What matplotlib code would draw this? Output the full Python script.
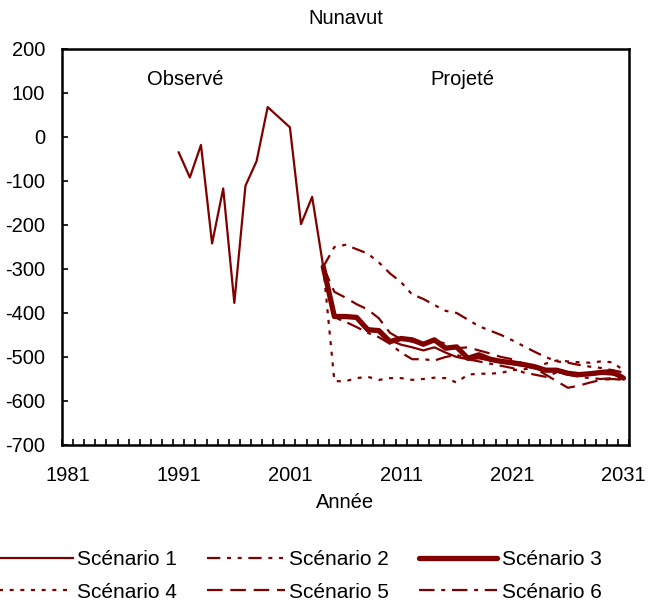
import numpy as np
import matplotlib
matplotlib.use('Agg')
import matplotlib.pyplot as plt
from matplotlib.ticker import MultipleLocator

plt.rcParams['font.family'] = ['Liberation Sans', 'DejaVu Sans']
plt.rcParams['axes.unicode_minus'] = False

# Observed series
obs_years = list(range(1991, 2005))
observed = [-35, -92, -18, -242, -117, -377, -111, -55, 68, 45, 22, -198, -136, -295]

# Projections 2004-2031
proj_years = list(range(2004, 2032))
scen1 = [-295, -405, -408, -410, -435, -440, -462, -472, -478, -485, -478, -490, -500, -505,
         -503, -508, -512, -516, -520, -526, -530, -533, -538, -540, -540, -538, -540, -546]
scen2 = [-295, -250, -245, -255, -265, -285, -310, -330, -358, -368, -382, -395, -400, -415,
         -430, -440, -450, -462, -475, -488, -500, -510, -513, -518, -522, -525, -530, -535]
scen3 = [-295, -408, -408, -410, -438, -440, -465, -458, -461, -471, -461, -480, -477, -503,
         -495, -505, -510, -513, -517, -522, -530, -530, -537, -540, -538, -535, -533, -548]
scen4 = [-295, -555, -555, -548, -545, -552, -548, -548, -552, -550, -547, -548, -558, -540,
         -538, -538, -536, -530, -528, -525, -515, -508, -510, -512, -513, -510, -512, -530]
scen5 = [-295, -352, -365, -380, -392, -412, -445, -460, -465, -470, -462, -470, -480, -478,
         -485, -492, -500, -505, -515, -525, -540, -555, -570, -565, -558, -552, -550, -552]
scen6 = [-295, -410, -420, -432, -445, -455, -470, -490, -505, -505, -508, -500, -495, -505,
         -510, -515, -520, -525, -535, -540, -545, -535, -540, -545, -548, -550, -548, -550]

col = '#800000'
fs = 14.5

fig = plt.figure(figsize=(6.48, 6.02), dpi=100)
ax = fig.add_axes([62/648, 1-445/602, 567/648, 396/602])

ax.plot(obs_years, observed, color=col, lw=1.6)
h1, = ax.plot(proj_years, scen1, color=col, lw=1.6, label='Scénario 1')
h2, = ax.plot(proj_years, scen2, color=col, lw=1.6, dashes=(6, 3, 1.8, 3, 1.8, 3), label='Scénario 2')
h3, = ax.plot(proj_years, scen3, color=col, lw=3.8, solid_capstyle='round', label='Scénario 3')
h4, = ax.plot(proj_years, scen4, color=col, lw=1.6, dashes=(1.8, 3), label='Scénario 4')
h5, = ax.plot(proj_years, scen5, color=col, lw=1.6, dashes=(7, 3.5), label='Scénario 5')
h6, = ax.plot(proj_years, scen6, color=col, lw=1.6, dashes=(7, 3, 1.8, 3), label='Scénario 6')

ax.set_xlim(1980.5, 2031.5)
ax.set_ylim(-700, 200)
ax.set_xticks(range(1981, 2032, 10))
ax.set_xticks(np.arange(1980.5, 2031.6, 1), minor=True)
ax.yaxis.set_major_locator(MultipleLocator(100))
ax.tick_params(axis='x', which='major', length=0, pad=15, labelsize=fs)
ax.tick_params(axis='x', which='minor', direction='in', length=4, width=1.2)
ax.tick_params(axis='y', direction='in', length=4, width=1.2, pad=12, labelsize=fs)
for s in ax.spines.values():
    s.set_linewidth(1.8)

ax.set_title('Nunavut', fontsize=fs, pad=18)
ax.set_xlabel('Année', fontsize=fs, labelpad=6)
ax.text(1991.6, 130, 'Observé', fontsize=fs, ha='center', va='center')
ax.text(2016.5, 130, 'Projeté', fontsize=fs, ha='center', va='center')

# legend filled row-wise: 1 2 3 / 4 5 6
handles = [h1, h4, h2, h5, h3, h6]
fig.legend(handles=handles, labels=[h.get_label() for h in handles],
           loc='center', bbox_to_anchor=(298/648, 1-576/602), ncol=3, frameon=False,
           fontsize=15, handlelength=3.75, handletextpad=0.2, columnspacing=1.45,
           labelspacing=0.65, borderpad=0)

plt.savefig('out.png', dpi=100)
